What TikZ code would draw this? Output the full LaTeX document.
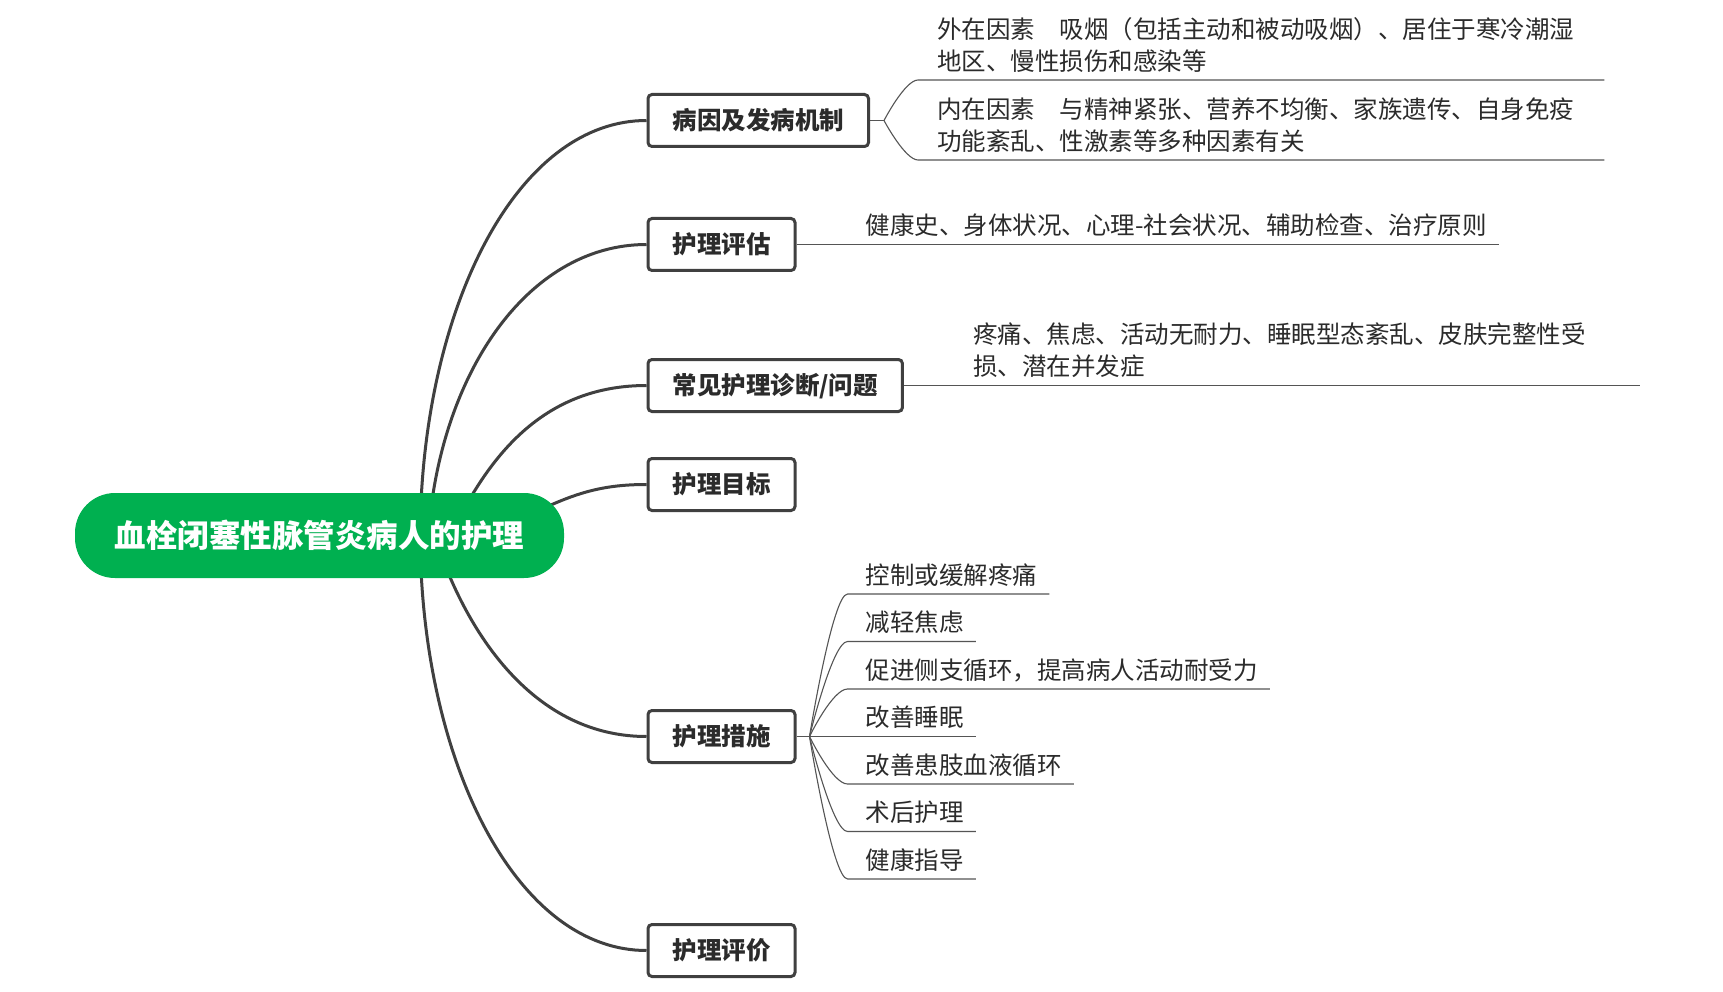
\documentclass[tikz,border=0pt]{standalone}
\usepackage{fontspec}
\setmainfont{Noto Sans CJK SC}
\usetikzlibrary{calc,backgrounds}
\definecolor{rootgreen}{HTML}{00B050}
\definecolor{linegray}{HTML}{404040}
\definecolor{thingray}{HTML}{555555}
\definecolor{txtcol}{HTML}{2B2B2B}
\begin{document}
\begin{tikzpicture}[x=1pt,y=-1pt,
  rootnode/.style={fill=rootgreen, rounded corners=40pt, minimum width=489pt, minimum height=85pt,
    inner sep=0pt, text=white, font=\fontsize{31.5}{36}\selectfont\bfseries, text height=26.5pt, text depth=2.5pt},
  topic/.style={draw=linegray, line width=3pt, fill=white, rounded corners=4pt, minimum height=52pt,
    inner xsep=24.5pt, inner ysep=0pt, text=txtcol, font=\fontsize{24.5}{30}\selectfont\bfseries,
    text height=20.6pt, text depth=2pt, anchor=west},
  detail/.style={anchor=south west, inner xsep=0pt, inner ysep=9.7pt, text depth=0pt, text=txtcol,
    font=\fontsize{24.5}{32}\selectfont, align=left},
  detailtwo/.style={detail, text width=655pt, text depth=32pt},
  mainline/.style={draw=linegray, line width=3pt},
  subline/.style={draw=thingray, line width=1.1pt},
]
\useasboundingbox (0,0) rectangle (1723,992);

% root
\node[rootnode] (root) at (319.5,535.5) {血栓闭塞性脉管炎病人的护理};

% main topics
\node[topic] (b1) at (646.5,120.5) {病因及发病机制};
\node[topic] (b2) at (646.5,244.5) {护理评估};
\node[topic] (b3) at (646.5,385.5) {常见护理诊断/问题};
\node[topic] (b4) at (646.5,484.5) {护理目标};
\node[topic] (b5) at (646.5,736.5) {护理措施};
\node[topic] (b6) at (646.5,950.5) {护理评价};

% curve start points
\coordinate (s1) at ($(root.center)+(101.5,-33.5)$);
\coordinate (s2) at ($(root.center)+(108.5,4.5)$);
\coordinate (s3) at ($(root.center)+(148.5,-33.5)$);
\coordinate (s4) at ($(root.center)+(220.5,-25.5)$);
\coordinate (s5) at ($(root.center)+(127.5,34.5)$);
\coordinate (s6) at ($(root.center)+(101.5,34.5)$);

% details of b1
\coordinate (f1) at ($(b1.east)+(14,0)$);
\coordinate (f1c) at ($(f1)+(21,0)$);
\node[detailtwo] (d1a) at (937,80) {外在因素　吸烟（包括主动和被动吸烟）、居住于寒冷潮湿\\地区、慢性损伤和感染等};
\node[detailtwo] (d1b) at (937,160) {内在因素　与精神紧张、营养不均衡、家族遗传、自身免疫\\功能紊乱、性激素等多种因素有关};

% details of b2, b3
\node[detail] (d2) at ($(b2.east)+(69,0)$) {健康史、身体状况、心理-社会状况、辅助检查、治疗原则};
\node[detailtwo] (d3) at ($(b3.east)+(69,0)$) {疼痛、焦虑、活动无耐力、睡眠型态紊乱、皮肤完整性受\\损、潜在并发症};

% details of b5
\coordinate (f5) at ($(b5.east)+(13,0)$);
\coordinate (f5c) at ($(f5)+(23,0)$);
\node[detail] (m1) at ($(f5)+(56,-142.5)$) {控制或缓解疼痛};
\node[detail] (m2) at ($(f5)+(56,-95)$) {减轻焦虑};
\node[detail] (m3) at ($(f5)+(56,-47.5)$) {促进侧支循环，提高病人活动耐受力};
\node[detail] (m4) at ($(f5)+(56,0)$) {改善睡眠};
\node[detail] (m5) at ($(f5)+(56,47.5)$) {改善患肢血液循环};
\node[detail] (m6) at ($(f5)+(56,95)$) {术后护理};
\node[detail] (m7) at ($(f5)+(56,142.5)$) {健康指导};

\begin{scope}[on background layer]
  \fill[white] (0,0) rectangle (1723,992);
  % main curves
  \draw[mainline] (s1) .. controls (431,292) and (522,120.5) .. (b1.west);
  \draw[mainline] (s2) .. controls (438,377) and (526,244.5) .. (b2.west);
  \draw[mainline] (s3) .. controls (503,441) and (555,385.5) .. (b3.west);
  \draw[mainline] (s4) .. controls (578,492) and (605,484.5) .. (b4.west);
  \draw[mainline] (s5) .. controls (481,653) and (545,736.5) .. (b5.west);
  \draw[mainline] (s6) .. controls (431,779) and (522,950.5) .. (b6.west);
  % b1 bracket
  \draw[subline] (b1.east) -- (f1);
  \draw[subline] (f1) .. controls (f1) and (f1c |- d1a.south) .. ([xshift=-19pt]d1a.south west) -- ([xshift=12pt]d1a.south east);
  \draw[subline] (f1) .. controls (f1) and (f1c |- d1b.south) .. ([xshift=-19pt]d1b.south west) -- ([xshift=12pt]d1b.south east);
  % b2, b3
  \draw[subline] (b2.east) -- ([xshift=12pt]d2.south east);
  \draw[subline] (b3.east) -- ([xshift=12pt]d3.south east);
  % b5 fan
  \draw[subline] (b5.east) -- (f5);
  \foreach \m in {m1,m2,m3,m5,m6,m7}{
    \draw[subline] (f5) .. controls (f5) and (f5c |- \m.south) .. ([xshift=-18pt]\m.south west) -- ([xshift=12pt]\m.south east);
  }
  \draw[subline] (f5) -- ([xshift=12pt]m4.south east);
\end{scope}
\end{tikzpicture}
\end{document}
